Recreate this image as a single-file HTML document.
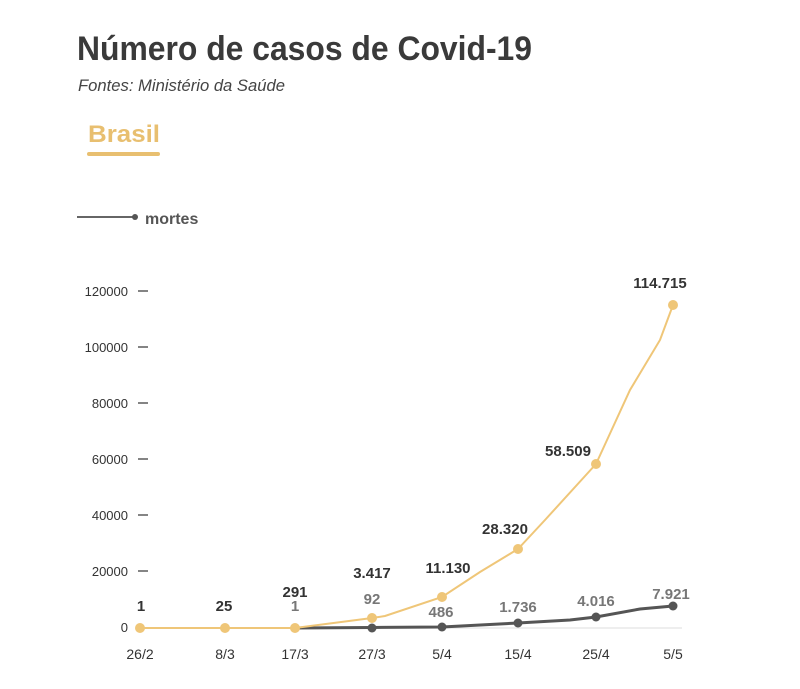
<!DOCTYPE html>
<html><head><meta charset="utf-8"><style>
body{margin:0;background:#fff;width:800px;height:684px;overflow:hidden;font-family:"Liberation Sans",sans-serif}
</style></head><body>
<svg width="800" height="684" xmlns="http://www.w3.org/2000/svg" font-family="Liberation Sans, sans-serif">
<text x="77" y="60" font-size="34" font-weight="bold" fill="#3a3a3a" textLength="455" lengthAdjust="spacingAndGlyphs">Número de casos de Covid-19</text>
<text x="78" y="91" font-size="17" font-style="italic" fill="#444" textLength="207" lengthAdjust="spacingAndGlyphs">Fontes: Ministério da Saúde</text>
<text x="88" y="142" font-size="24" font-weight="bold" fill="#e8bf70" textLength="72" lengthAdjust="spacingAndGlyphs">Brasil</text>
<rect x="87" y="152" width="73" height="4" rx="2" fill="#e8bf70"/>
<line x1="77" y1="217" x2="134" y2="217" stroke="#666" stroke-width="2"/>
<circle cx="135" cy="217" r="3" fill="#555"/>
<text x="145" y="224" font-size="16" font-weight="bold" fill="#555">mortes</text>
<g font-size="13" fill="#333" text-anchor="end">
<text x="128" y="296">120000</text><text x="128" y="352">100000</text><text x="128" y="408">80000</text>
<text x="128" y="464">60000</text><text x="128" y="520">40000</text><text x="128" y="576">20000</text><text x="128" y="632">0</text>
</g>
<g stroke="#333" stroke-width="1.2">
<line x1="138" y1="291" x2="148" y2="291"/><line x1="138" y1="347" x2="148" y2="347"/><line x1="138" y1="403" x2="148" y2="403"/>
<line x1="138" y1="459" x2="148" y2="459"/><line x1="138" y1="515" x2="148" y2="515"/><line x1="138" y1="571" x2="148" y2="571"/>
</g>
<line x1="140" y1="628" x2="682" y2="628" stroke="#ddd" stroke-width="1"/>
<g font-size="14" fill="#333" text-anchor="middle">
<text x="140" y="659">26/2</text><text x="225" y="659">8/3</text><text x="295" y="659">17/3</text><text x="372" y="659">27/3</text>
<text x="442" y="659">5/4</text><text x="518" y="659">15/4</text><text x="596" y="659">25/4</text><text x="673" y="659">5/5</text>
</g>
<path d="M295,628 L372,627.5 L442,627 L518,623 L570,620 L596,617 L640,609 L673,606" fill="none" stroke="#555" stroke-width="3"/>
<path d="M140,628 L295,628 L372,618 L385,616 L442,597 L480,572 L518,549 L545,520 L596,464 L630,390 L660,340 L673,305" fill="none" stroke="#efc678" stroke-width="2"/>
<g fill="#efc678">
<circle cx="140" cy="628" r="5"/><circle cx="225" cy="628" r="5"/><circle cx="295" cy="628" r="5"/><circle cx="372" cy="618" r="5"/>
<circle cx="442" cy="597" r="5"/><circle cx="518" cy="549" r="5"/><circle cx="596" cy="464" r="5"/><circle cx="673" cy="305" r="5"/>
</g>
<g fill="#555">
<circle cx="372" cy="628" r="4.5"/><circle cx="442" cy="627" r="4.5"/><circle cx="518" cy="623" r="4.5"/><circle cx="596" cy="617" r="4.5"/><circle cx="673" cy="606" r="4.5"/>
</g>
<g font-size="15" font-weight="bold" fill="#333" text-anchor="middle">
<text x="141" y="611">1</text><text x="224" y="611">25</text><text x="295" y="597">291</text>
<text x="372" y="578">3.417</text><text x="448" y="573">11.130</text><text x="505" y="534">28.320</text>
<text x="568" y="456">58.509</text><text x="660" y="288">114.715</text>
</g>
<g font-size="15" font-weight="bold" fill="#777" text-anchor="middle">
<text x="295" y="611">1</text><text x="372" y="604">92</text><text x="441" y="617">486</text>
<text x="518" y="612">1.736</text><text x="596" y="606">4.016</text><text x="671" y="599">7.921</text>
</g>
</svg>
</body></html>
